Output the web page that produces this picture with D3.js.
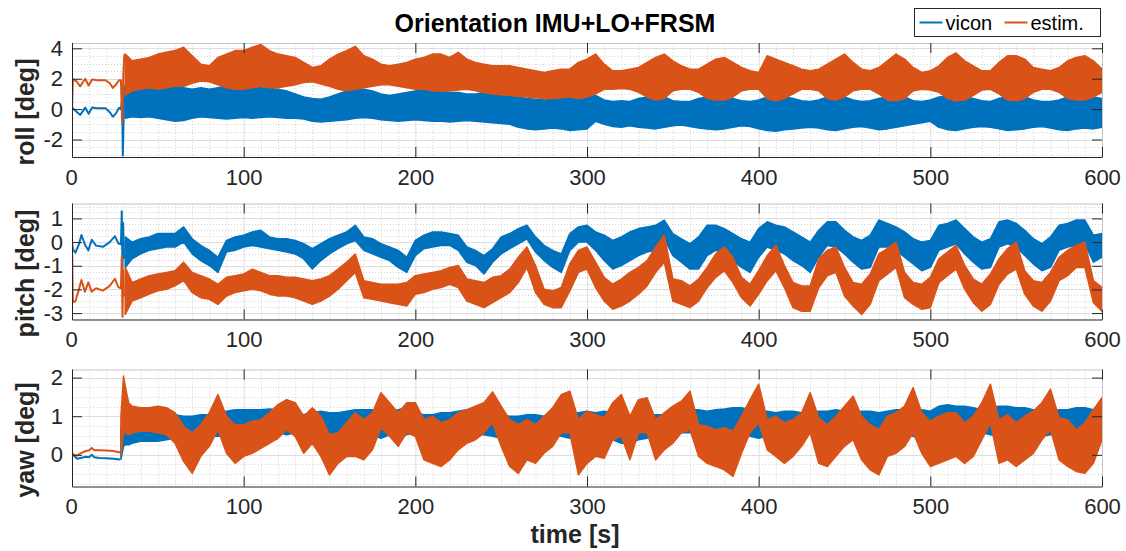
<!DOCTYPE html>
<html>
<head>
<meta charset="utf-8">
<script src="https://cdn.jsdelivr.net/npm/d3@7"></script>
<style>
  body { margin: 0; background: #fff; }
  svg { display: block; font-family: "Liberation Sans", Arial, Helvetica, sans-serif; }
</style>
</head>
<body>
<div class="vis-orient"></div>
<script>
// ---- data (deg over time in s) ----
// before take-off the signals are single thin lines
const rollPreT = [0, 0.5, 2.5, 4.8, 6.5, 7.7, 9.7, 11.7, 15, 19.6, 22, 23.8, 25.5, 27.4, 28.5, 29.2, 29.6, 30.0, 30.5];
const rollPreVicon = [0.09, 0.05, -0.15, -0.38, -0.1, 0.1, -0.3, 0.1, 0.05, 0.05, -0.2, -0.5, -0.3, 0.09, 0.0, 0.6, -3.05, -1.0, 1.5];
const rollPreEstim = [0.0, 1.95, 1.85, 1.5, 1.8, 2.0, 1.55, 1.95, 1.9, 1.9, 1.7, 1.4, 1.6, 1.9, 1.9, -0.9, 1.2, 2.6, 3.6];

const pitchPreT = [0, 0.5, 2, 4, 5.5, 7.5, 9.5, 11.5, 14, 18, 22, 25, 27, 28.5, 29, 29.4, 29.8, 30.3];
const pitchPreVicon = [0.0, -0.3, -0.45, -0.1, 0.3, -0.1, -0.35, 0.1, -0.15, -0.2, 0.0, 0.25, -0.05, -0.1, 1.3, -1.2, 0.8, -0.7];
const pitchPreEstim = [0.0, -2.55, -2.5, -2.0, -1.6, -2.1, -1.7, -2.1, -1.95, -2.05, -1.85, -1.55, -1.9, -1.95, -0.6, -3.15, -1.2, -2.3];

const yawPreT = [0, 1, 3, 5, 8, 10, 11.5, 13, 16, 20, 24, 28];
const yawPreVicon = [0.03, -0.02, -0.1, -0.08, -0.05, -0.06, 0.0, -0.06, -0.08, -0.09, -0.1, -0.12];
const yawPreEstim = [0.05, 0.0, -0.02, 0.04, 0.1, 0.12, 0.18, 0.12, 0.12, 0.11, 0.1, 0.06];

// in flight the signals are noisy bands: low / high envelope per time sample
const flightT = [31, 35,
  40, 45, 50, 55, 60, 65, 70, 75, 80, 85,
  90, 95, 100, 105, 110, 115, 120, 125, 130, 135,
  140, 145, 150, 155, 160, 165, 170, 175, 180, 185,
  190, 195, 200, 205, 210, 215, 220, 225, 230, 235,
  240, 245, 250, 255, 260, 265, 270, 275, 280, 285,
  290, 295, 300, 305, 310, 315, 320, 325, 330, 335,
  340, 345, 350, 355, 360, 365, 370, 375, 380, 385,
  390, 395, 400, 405, 410, 415, 420, 425, 430, 435,
  440, 445, 450, 455, 460, 465, 470, 475, 480, 485,
  490, 495, 500, 505, 510, 515, 520, 525, 530, 535,
  540, 545, 550, 555, 560, 565, 570, 575, 580, 585,
  590, 595, 600];

const yawT = [28.5, 30, 31, 33, 35,
  40, 45, 50, 55, 60, 65, 70, 75, 80, 85,
  90, 95, 100, 105, 110, 115, 120, 125, 130, 135,
  140, 145, 150, 155, 160, 165, 170, 175, 180, 185,
  190, 195, 200, 205, 210, 215, 220, 225, 230, 235,
  240, 245, 250, 255, 260, 265, 270, 275, 280, 285,
  290, 295, 300, 305, 310, 315, 320, 325, 330, 335,
  340, 345, 350, 355, 360, 365, 370, 375, 380, 385,
  390, 395, 400, 405, 410, 415, 420, 425, 430, 435,
  440, 445, 450, 455, 460, 465, 470, 475, 480, 485,
  490, 495, 500, 505, 510, 515, 520, 525, 530, 535,
  540, 545, 550, 555, 560, 565, 570, 575, 580, 585,
  590, 595, 600];

const rollViconHi = [1.6, 1.5,
  1.5, 1.4, 1.5, 1.5, 1.5, 1.4, 1.3, 1.4, 1.3, 1.4,
  1.5, 1.5, 1.45, 1.4, 1.4, 1.35, 1.3, 1.2, 1.0, 0.8,
  0.7, 0.65, 0.8, 1.0, 1.2, 1.3, 1.3, 1.2, 1.0, 0.9,
  1.0, 1.1, 1.2, 1.3, 1.3, 1.2, 1.1, 1.1, 1.0, 1.0,
  1.1, 1.0, 0.95, 0.9, 0.8, 0.7, 0.65, 0.6, 0.65, 0.7,
  0.8, 0.8, 0.85, 0.9, 0.6, 0.5, 0.55, 0.5, 0.7, 0.8,
  0.85, 0.8, 0.55, 0.5, 0.5, 0.7, 0.8, 0.85, 0.8, 0.7,
  0.55, 0.5, 0.6, 0.8, 0.85, 0.8, 0.7, 0.55, 0.5, 0.6,
  0.8, 0.85, 0.8, 0.6, 0.5, 0.55, 0.7, 0.8, 0.85, 0.8,
  0.55, 0.5, 0.6, 0.8, 0.85, 0.85, 0.8, 0.7, 0.55, 0.5,
  0.7, 0.85, 0.85, 0.8, 0.6, 0.5, 0.5, 0.6, 0.8, 0.85,
  0.85, 0.8, 0.7];
const rollViconLo = [-0.6, -0.5,
  -0.55, -0.5, -0.6, -0.7, -0.8, -0.75, -0.6, -0.5, -0.55, -0.6,
  -0.65, -0.6, -0.55, -0.6, -0.55, -0.5, -0.55, -0.6, -0.6, -0.65,
  -0.8, -0.85, -0.8, -0.75, -0.7, -0.6, -0.55, -0.6, -0.7, -0.75,
  -0.8, -0.75, -0.7, -0.75, -0.8, -0.8, -0.85, -0.8, -0.75, -0.8,
  -0.85, -0.9, -0.95, -1.0, -1.2, -1.3, -1.35, -1.3, -1.25, -1.3,
  -1.4, -1.35, -1.3, -0.8, -1.0, -1.15, -1.2, -1.1, -1.2, -1.25,
  -1.3, -1.2, -1.1, -1.05, -1.15, -1.25, -1.3, -1.35, -1.3, -1.2,
  -1.1, -1.15, -1.3, -1.4, -1.45, -1.35, -1.3, -1.25, -1.2, -1.25,
  -1.35, -1.4, -1.3, -1.2, -1.15, -1.25, -1.35, -1.3, -1.2, -1.1,
  -1.0, -0.9, -0.8, -1.2, -1.35, -1.4, -1.3, -1.2, -1.15, -1.2,
  -1.3, -1.4, -1.35, -1.3, -1.2, -1.15, -1.25, -1.35, -1.4, -1.3,
  -1.25, -1.3, -1.2];
const rollEstimHi = [3.63, 3.18,
  3.29, 3.40, 3.62, 3.74, 3.85, 4.07, 3.51, 2.96, 2.85, 3.40,
  3.62, 3.85, 3.85, 4.07, 4.25, 3.85, 3.62, 3.51, 3.40, 3.07,
  2.74, 2.85, 3.29, 3.62, 3.85, 4.13, 3.51, 3.29, 2.96, 2.85,
  2.96, 3.07, 3.29, 3.40, 3.62, 3.62, 3.40, 3.74, 3.29, 3.07,
  2.96, 2.85, 2.85, 2.85, 2.74, 2.63, 2.52, 2.41, 2.52, 2.63,
  2.63, 3.07, 3.29, 3.62, 2.96, 2.52, 2.52, 2.63, 2.74, 3.07,
  3.40, 3.62, 3.18, 2.85, 2.63, 2.63, 2.96, 3.29, 3.40, 3.07,
  2.74, 2.52, 2.41, 3.51, 3.29, 3.07, 2.85, 2.63, 2.52, 2.63,
  2.96, 3.29, 3.62, 3.07, 2.63, 2.52, 2.74, 3.18, 3.62, 3.29,
  2.74, 2.41, 2.52, 2.85, 3.40, 3.69, 3.18, 2.85, 2.52, 2.52,
  3.07, 3.51, 3.51, 3.29, 2.74, 2.63, 2.52, 2.74, 3.18, 3.40,
  3.51, 3.18, 2.63];
const rollEstimLo = [0.9, 1.2,
  1.3, 1.4, 1.3, 1.4, 1.5, 1.5, 1.7, 1.85, 1.8, 1.6,
  1.4, 1.3, 1.3, 1.4, 1.5, 1.4, 1.4, 1.5, 1.6, 1.75,
  1.8, 1.65, 1.5, 1.3, 1.2, 1.3, 1.4, 1.5, 1.6, 1.6,
  1.5, 1.4, 1.3, 1.3, 1.2, 1.2, 1.2, 1.25, 1.3, 1.2,
  1.1, 1.0, 0.95, 0.9, 0.85, 0.8, 0.75, 0.7, 0.7, 0.75,
  0.8, 0.7, 0.8, 1.0, 1.3, 1.3, 1.35, 1.3, 1.1, 0.8,
  0.6, 0.7, 1.2, 1.3, 1.3, 1.1, 0.7, 0.6, 0.6, 0.8,
  1.2, 1.3, 1.3, 0.7, 0.55, 0.7, 1.0, 1.3, 1.3, 1.2,
  0.7, 0.6, 0.8, 1.2, 1.3, 1.3, 1.0, 0.6, 0.55, 0.7,
  1.2, 1.3, 1.25, 1.1, 0.7, 0.55, 0.6, 0.9, 1.25, 1.3,
  1.0, 0.6, 0.55, 0.7, 1.1, 1.3, 1.3, 1.1, 0.7, 0.6,
  0.6, 0.8, 1.1];

const pitchViconHi = [0.22, 0.0,
  0.14, 0.22, 0.36, 0.36, 0.36, 0.64, 0.14, -0.14, -0.35, -0.64,
  0.07, 0.22, 0.29, 0.43, 0.50, 0.22, 0.14, 0.14, 0.07, -0.07,
  -0.28, -0.07, 0.14, 0.29, 0.43, 0.71, 0.22, 0.14, -0.07, -0.21,
  -0.35, -0.64, 0.07, 0.29, 0.43, 0.43, 0.36, 0.29, -0.21, -0.35,
  -0.57, -0.28, 0.22, 0.36, 0.57, 0.71, 0.22, -0.14, -0.35, -0.50,
  0.36, 0.64, 0.71, 0.43, 0.29, 0.07, 0.22, 0.43, 0.57, 0.64,
  0.71, 0.93, 0.36, 0.14, -0.07, 0.22, 0.71, 0.71, 0.57, 0.36,
  0.14, 0.0, 0.57, 0.86, 0.71, 0.64, 0.43, 0.22, 0.0, 0.50,
  0.86, 0.86, 0.50, 0.22, 0.07, 0.29, 0.93, 0.79, 0.64, 0.43,
  0.14, 0.0, 0.07, 0.71, 0.79, 0.93, 0.57, 0.22, 0.0, 0.14,
  0.86, 0.93, 0.79, 0.50, 0.14, -0.07, 0.22, 0.71, 0.79, 0.93,
  0.93, 0.29, 0.36];
const pitchViconLo = [-1.07, -0.71,
  -0.50, -0.35, -0.28, -0.21, -0.21, 0.0, -0.50, -0.78, -0.99, -1.28,
  -0.42, -0.35, -0.21, -0.14, -0.21, -0.28, -0.35, -0.42, -0.50, -0.71,
  -1.14, -0.78, -0.50, -0.28, -0.07, 0.07, -0.35, -0.50, -0.64, -0.78,
  -1.07, -1.28, -0.57, -0.28, -0.21, -0.14, -0.14, -0.35, -0.85, -0.99,
  -1.35, -0.85, -0.50, -0.28, -0.07, 0.14, -0.42, -0.78, -1.07, -1.28,
  -0.35, 0.0, 0.0, -0.35, -0.78, -1.14, -0.99, -0.78, -0.57, -0.42,
  -0.35, 0.14, -0.57, -0.85, -1.14, -1.14, -0.57, -0.35, -0.50, -0.78,
  -1.07, -1.28, -0.64, -0.21, -0.35, -0.50, -0.78, -0.99, -1.28, -0.64,
  -0.14, -0.21, -0.50, -0.85, -1.14, -1.07, -0.21, -0.21, -0.35, -0.64,
  -0.92, -1.21, -1.07, -0.35, -0.21, -0.07, -0.50, -0.85, -1.14, -1.07,
  -0.21, -0.07, -0.21, -0.57, -0.92, -1.21, -1.07, -0.35, -0.21, -0.14,
  -0.07, -0.85, -0.64];
const pitchEstimHi = [-1.07, -1.71,
  -1.56, -1.42, -1.35, -1.28, -1.21, -0.85, -1.28, -1.42, -1.56, -1.78,
  -1.49, -1.42, -1.35, -1.14, -1.28, -1.42, -1.42, -1.49, -1.49, -1.56,
  -1.63, -1.56, -1.42, -1.14, -0.85, -0.50, -1.63, -1.71, -1.78, -1.78,
  -1.78, -1.71, -1.42, -1.35, -1.28, -1.21, -1.07, -0.99, -1.56, -1.63,
  -1.71, -1.49, -1.42, -1.14, -0.64, -0.21, -0.99, -1.99, -2.06, -1.92,
  -0.92, -0.35, -0.21, -0.85, -1.49, -1.78, -1.56, -1.28, -1.07, -0.78,
  -0.21, 0.29, -1.56, -1.63, -1.85, -1.56, -1.07, -0.50, -0.21, -0.64,
  -1.49, -1.78, -1.21, -0.57, -0.14, -0.99, -1.71, -1.85, -1.85, -0.71,
  -0.35, -0.21, -1.07, -1.71, -1.78, -1.35, -0.50, -0.28, 0.0, -1.28,
  -1.71, -1.78, -1.49, -0.71, -0.42, -0.14, -0.99, -1.56, -1.78, -1.35,
  -0.71, -0.28, 0.0, -1.21, -1.63, -1.71, -1.28, -0.64, -0.35, -0.14,
  0.0, -1.63, -1.92];
const pitchEstimLo = [-3.06, -2.49,
  -2.35, -2.20, -2.06, -1.99, -1.85, -1.63, -2.13, -2.35, -2.42, -2.63,
  -2.28, -2.13, -2.06, -1.99, -2.06, -2.20, -2.28, -2.28, -2.35, -2.49,
  -2.63, -2.49, -2.28, -1.99, -1.63, -1.28, -2.35, -2.42, -2.49, -2.56,
  -2.63, -2.70, -2.20, -2.13, -1.99, -1.92, -1.78, -1.92, -2.49, -2.63,
  -2.77, -2.56, -2.35, -2.13, -1.71, -1.07, -2.13, -2.63, -2.77, -2.77,
  -2.06, -1.28, -1.14, -1.92, -2.49, -2.84, -2.70, -2.49, -2.20, -1.85,
  -1.28, -0.85, -2.49, -2.63, -2.77, -2.49, -1.92, -1.49, -1.21, -1.71,
  -2.35, -2.70, -2.20, -1.63, -1.21, -1.92, -2.77, -2.92, -2.92, -1.92,
  -1.42, -1.28, -2.28, -2.70, -3.06, -2.63, -1.63, -1.35, -1.07, -2.35,
  -2.63, -2.84, -2.77, -1.71, -1.42, -1.14, -1.99, -2.56, -2.92, -2.63,
  -1.78, -1.35, -1.14, -2.20, -2.70, -2.92, -2.49, -1.63, -1.42, -1.07,
  -1.07, -2.56, -2.92];

const yawViconHi = [0.70, 0.91, 0.95, 0.91, 0.91,
  1.04, 1.09, 1.13, 1.09, 1.04, 1.0, 1.0, 1.04, 1.04, 1.04,
  1.13, 1.17, 1.17, 1.17, 1.17, 1.19, 1.17, 1.13, 1.09, 1.04,
  1.09, 1.13, 1.09, 1.09, 1.13, 1.17, 1.17, 1.17, 1.17, 1.13,
  1.17, 1.22, 1.09, 1.04, 1.04, 1.09, 1.09, 1.13, 1.17, 1.17,
  1.17, 1.13, 1.04, 1.0, 1.0, 1.04, 1.04, 1.0, 1.0, 1.04,
  1.09, 1.09, 1.13, 1.09, 1.13, 1.09, 1.04, 1.04, 1.0, 1.0,
  1.04, 1.04, 1.09, 1.13, 1.17, 1.17, 1.13, 1.17, 1.19, 1.22,
  1.22, 1.17, 1.13, 1.13, 1.09, 1.13, 1.13, 1.09, 1.09, 1.13,
  1.13, 1.17, 1.13, 1.09, 1.13, 1.13, 1.09, 1.13, 1.17, 1.17,
  1.22, 1.17, 1.13, 1.26, 1.30, 1.26, 1.26, 1.22, 1.17, 1.22,
  1.26, 1.26, 1.22, 1.22, 1.17, 1.13, 1.13, 1.17, 1.17, 1.22,
  1.22, 1.17, 1.13];
const yawViconLo = [-0.12, 0.22, 0.26, 0.26, 0.30,
  0.35, 0.35, 0.35, 0.39, 0.43, 0.43, 0.48, 0.52, 0.48, 0.48,
  0.48, 0.52, 0.57, 0.48, 0.52, 0.57, 0.57, 0.52, 0.57, 0.61,
  0.57, 0.48, 0.35, 0.39, 0.48, 0.52, 0.48, 0.52, 0.43, 0.52,
  0.48, 0.52, 0.57, 0.57, 0.52, 0.57, 0.48, 0.52, 0.48, 0.52,
  0.52, 0.48, 0.43, 0.48, 0.52, 0.48, 0.43, 0.48, 0.52, 0.48,
  0.43, 0.48, 0.52, 0.57, 0.48, 0.39, 0.30, 0.30, 0.39, 0.43,
  0.48, 0.43, 0.52, 0.57, 0.57, 0.57, 0.52, 0.57, 0.57, 0.52,
  0.52, 0.48, 0.43, 0.48, 0.52, 0.57, 0.61, 0.61, 0.57, 0.61,
  0.61, 0.57, 0.61, 0.57, 0.52, 0.57, 0.52, 0.57, 0.57, 0.52,
  0.48, 0.43, 0.39, 0.48, 0.52, 0.52, 0.48, 0.52, 0.57, 0.52,
  0.48, 0.48, 0.52, 0.48, 0.43, 0.48, 0.52, 0.57, 0.57, 0.52,
  0.52, 0.57, 0.61];
const yawEstimHi = [1.0, 2.04, 1.78, 1.35, 1.26,
  1.22, 1.22, 1.26, 1.22, 1.09, 0.74, 0.57, 0.78, 1.09, 1.56,
  1.0, 0.78, 0.78, 0.87, 0.91, 1.09, 1.30, 1.43, 1.35, 1.0,
  1.22, 1.0, 0.52, 0.57, 0.83, 1.09, 0.91, 1.09, 1.61, 1.35,
  1.09, 1.35, 1.35, 0.91, 1.0, 0.83, 0.91, 1.09, 1.17, 1.26,
  1.35, 1.63, 1.26, 0.91, 0.78, 0.91, 0.78, 1.0, 1.22, 1.56,
  1.65, 0.91, 1.13, 1.04, 0.96, 1.35, 1.56, 1.0, 1.43, 1.48,
  0.91, 1.09, 1.26, 1.39, 1.65, 0.78, 0.74, 0.65, 0.70, 0.61,
  1.0, 1.43, 1.83, 0.91, 1.0, 0.83, 0.91, 1.09, 1.61, 0.96,
  0.78, 1.0, 1.26, 1.52, 1.0, 0.78, 0.65, 1.0, 1.09, 1.26,
  1.74, 1.09, 0.87, 1.0, 1.09, 1.09, 0.83, 1.0, 1.35, 1.83,
  0.91, 1.04, 0.83, 1.0, 1.13, 1.35, 1.70, 0.96, 0.91, 0.65,
  0.83, 1.17, 1.48];
const yawEstimLo = [0.0, 0.57, 0.57, 0.52, 0.57,
  0.61, 0.61, 0.57, 0.52, 0.30, -0.17, -0.48, -0.04, 0.22, 0.65,
  0.04, -0.22, -0.04, 0.04, 0.17, 0.30, 0.43, 0.65, 0.48, 0.04,
  0.30, -0.04, -0.52, -0.22, -0.04, -0.04, -0.13, 0.13, 0.70, 0.48,
  0.22, 0.57, 0.48, -0.13, -0.22, -0.30, -0.13, 0.13, 0.30, 0.39,
  0.57, 0.83, 0.22, -0.30, -0.48, -0.13, -0.22, 0.04, 0.22, 0.57,
  0.57, -0.52, -0.22, -0.04, -0.09, 0.39, 0.48, -0.13, 0.57, 0.57,
  -0.13, 0.13, 0.30, 0.57, 0.65, -0.04, -0.22, -0.30, -0.39, -0.56,
  0.04, 0.57, 0.83, 0.13, -0.04, -0.22, -0.04, 0.22, 0.57, -0.22,
  -0.30, -0.04, 0.22, 0.39, -0.13, -0.39, -0.52, -0.04, 0.04, 0.22,
  0.57, 0.04, -0.30, -0.22, -0.13, -0.04, -0.22, -0.04, 0.39, 0.83,
  -0.22, -0.13, -0.30, -0.13, 0.04, 0.39, 0.65, -0.13, -0.30, -0.43,
  -0.48, -0.22, 0.39];

const xTicks = [0, 100, 200, 300, 400, 500, 600];
const seriesNames = ['vicon', 'estim.'];
const colors = ['#0072BD', '#D95319'];

// ---- layout ----
const W = 1126, H = 551;
const axisColor = '#262626';

const svg = d3.select('.vis-orient').append('svg')
  .attr('width', W).attr('height', H);

const x = d3.scaleLinear().domain([0, 600]).range([72, 1102]);

const panels = [
  { label: 'roll [deg]', top: 43, bottom: 157, domain: [-3.15, 4.35], ticks: [-2, 0, 2, 4], minor: 0.5,
    preT: rollPreT, pre: [rollPreVicon, rollPreEstim],
    t: flightT, lo: [rollViconLo, rollEstimLo], hi: [rollViconHi, rollEstimHi] },
  { label: 'pitch [deg]', top: 203.5, bottom: 319.5, domain: [-3.27, 1.63], ticks: [-3, -2, -1, 0, 1], minor: 0.25,
    preT: pitchPreT, pre: [pitchPreVicon, pitchPreEstim],
    t: flightT, lo: [pitchViconLo, pitchEstimLo], hi: [pitchViconHi, pitchEstimHi] },
  { label: 'yaw [deg]', top: 369.5, bottom: 486.5, domain: [-0.82, 2.21], ticks: [0, 1, 2], minor: 0.25,
    preT: yawPreT, pre: [yawPreVicon, yawPreEstim],
    t: yawT, lo: [yawViconLo, yawEstimLo], hi: [yawViconHi, yawEstimHi] }
];

const xMinor = d3.range(10, 600, 10).filter(v => v % 100 !== 0);

panels.forEach((p, k) => {
  const y = d3.scaleLinear().domain(p.domain).range([p.bottom, p.top]);
  const g = svg.append('g');

  const clipId = 'clip' + k;
  svg.append('clipPath').attr('id', clipId)
    .append('rect')
    .attr('x', x(0)).attr('y', p.top)
    .attr('width', x(600) - x(0)).attr('height', p.bottom - p.top);

  // grid: minor dotted, major solid
  const yMinor = d3.range(Math.ceil(p.domain[0] / p.minor) * p.minor, p.domain[1], p.minor)
    .filter(v => !p.ticks.some(t => Math.abs(t - v) < 1e-6));
  const grid = g.append('g');
  grid.selectAll('.xm').data(xMinor).enter().append('line')
    .attr('x1', d => x(d) + 0.5).attr('x2', d => x(d) + 0.5)
    .attr('y1', p.top).attr('y2', p.bottom)
    .attr('stroke', '#d4d4d4').attr('stroke-dasharray', '1,2');
  grid.selectAll('.ym').data(yMinor).enter().append('line')
    .attr('x1', x(0)).attr('x2', x(600))
    .attr('y1', d => Math.round(y(d)) + 0.5).attr('y2', d => Math.round(y(d)) + 0.5)
    .attr('stroke', '#d4d4d4').attr('stroke-dasharray', '1,2');
  grid.selectAll('.xM').data(xTicks).enter().append('line')
    .attr('x1', d => x(d) + 0.5).attr('x2', d => x(d) + 0.5)
    .attr('y1', p.top).attr('y2', p.bottom)
    .attr('stroke', '#dedede');
  grid.selectAll('.yM').data(p.ticks).enter().append('line')
    .attr('x1', x(0)).attr('x2', x(600))
    .attr('y1', d => Math.round(y(d)) + 0.5).attr('y2', d => Math.round(y(d)) + 0.5)
    .attr('stroke', '#dedede');

  // data
  const plot = g.append('g').attr('clip-path', 'url(#' + clipId + ')');
  const line = d3.line().x(d => x(d[0])).y(d => y(d[1]));
  const area = d3.area().x(d => x(d.t)).y0(d => y(d.lo)).y1(d => y(d.hi));

  [0, 1].forEach(s => {
    const prePts = p.preT.map((t, i) => [t, p.pre[s][i]]);
    plot.append('path')
      .attr('d', line(prePts))
      .attr('fill', 'none')
      .attr('stroke', colors[s])
      .attr('stroke-width', 2)
      .attr('stroke-linejoin', 'round');

    const n = Math.min(p.t.length, p.lo[s].length, p.hi[s].length);
    const band = d3.range(n).map(i => ({ t: p.t[i], lo: p.lo[s][i], hi: p.hi[s][i] }));
    plot.append('path')
      .attr('d', area(band))
      .attr('fill', colors[s])
      .attr('stroke', colors[s])
      .attr('stroke-width', 1.5)
      .attr('stroke-linejoin', 'round');
  });

  // box: top / right light, left / bottom dark
  g.append('line').attr('x1', x(0)).attr('x2', x(600)).attr('y1', p.top + 0.5).attr('y2', p.top + 0.5)
    .attr('stroke', '#c4c4c4');
  g.append('line').attr('x1', x(600) + 0.5).attr('x2', x(600) + 0.5).attr('y1', p.top).attr('y2', p.bottom)
    .attr('stroke', '#c4c4c4');

  const fmt = d => String(d);
  const yAxis = g.append('g').attr('transform', 'translate(' + x(0) + ',0)')
    .call(d3.axisLeft(y).tickValues(p.ticks).tickSize(-10).tickSizeOuter(0).tickPadding(9).tickFormat(fmt));
  const xAxis = g.append('g').attr('transform', 'translate(0,' + p.bottom + ')')
    .call(d3.axisBottom(x).tickValues(xTicks).tickSize(-10).tickSizeOuter(0).tickPadding(12).tickFormat(fmt));
  const topAxis = g.append('g').attr('transform', 'translate(0,' + p.top + ')')
    .call(d3.axisTop(x).tickValues(xTicks).tickSize(-10).tickSizeOuter(0).tickFormat(''));
  const rightAxis = g.append('g').attr('transform', 'translate(' + x(600) + ',0)')
    .call(d3.axisRight(y).tickValues(p.ticks).tickSize(-10).tickSizeOuter(0).tickFormat(''));

  [yAxis, xAxis, topAxis, rightAxis].forEach(a => {
    a.selectAll('text').attr('fill', axisColor).style('font-size', '22px');
    a.selectAll('.tick line').attr('stroke', axisColor);
  });
  yAxis.select('.domain').attr('stroke', axisColor);
  xAxis.select('.domain').attr('stroke', axisColor);
  topAxis.select('.domain').attr('stroke', 'none');
  rightAxis.select('.domain').attr('stroke', 'none');
  xAxis.selectAll('.tick text').filter(d => d === 0).attr('dx', '-1');

  // y label
  g.append('text')
    .attr('transform', 'translate(34,' + ((p.top + p.bottom) / 2 + 12) + ') rotate(-90)')
    .attr('text-anchor', 'middle')
    .attr('fill', axisColor)
    .style('font-size', '25px')
    .style('font-weight', 'bold')
    .text(p.label);
});

// title and x label
svg.append('text')
  .attr('x', 555).attr('y', 32)
  .attr('text-anchor', 'middle')
  .attr('fill', '#000')
  .style('font-size', '25px').style('font-weight', 'bold')
  .text('Orientation IMU+LO+FRSM');

svg.append('text')
  .attr('x', 575).attr('y', 543)
  .attr('text-anchor', 'middle')
  .attr('fill', axisColor)
  .style('font-size', '25px').style('font-weight', 'bold')
  .text('time [s]');

// legend
const legend = svg.append('g').attr('transform', 'translate(914.5,8.5)');
legend.append('rect')
  .attr('width', 186).attr('height', 28)
  .attr('fill', '#fff').attr('stroke', axisColor).attr('stroke-width', 1);
const legendX = [5, 90];
seriesNames.forEach((name, i) => {
  const lg = legend.append('g').attr('transform', 'translate(' + legendX[i] + ',14)');
  lg.append('line').attr('x1', 0).attr('x2', 23).attr('y1', 0).attr('y2', 0)
    .attr('stroke', colors[i]).attr('stroke-width', 2);
  lg.append('text').attr('x', 26).attr('y', 7)
    .attr('fill', '#000')
    .style('font-size', '20px')
    .text(name);
});
</script>
</body>
</html>
